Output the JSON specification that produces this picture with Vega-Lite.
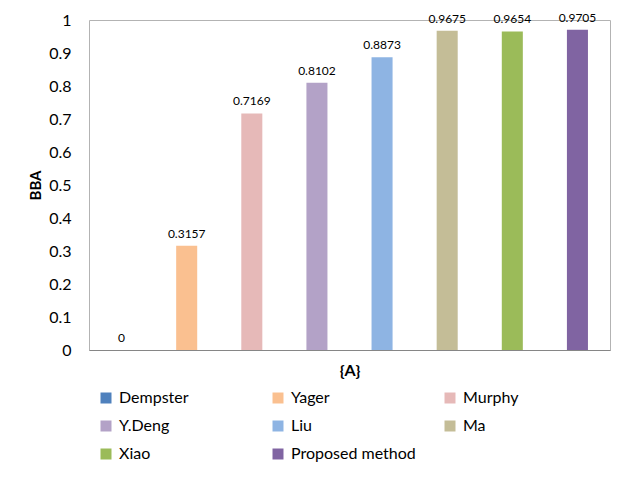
{
  "$schema": "https://vega.github.io/schema/vega-lite/v6.json",
  "width": 521,
  "height": 330,
  "autosize": "none",
  "padding": {"left": 89, "top": 20, "right": 8, "bottom": 134},
  "background": "white",
  "config": {
    "font": "Lato",
    "view": {"stroke": "#b3b3b3", "strokeWidth": 1}
  },
  "data": {
    "values": [
      {"method": "Dempster", "bba": 0},
      {"method": "Yager", "bba": 0.3157},
      {"method": "Murphy", "bba": 0.7169},
      {"method": "Y.Deng", "bba": 0.8102},
      {"method": "Liu", "bba": 0.8873},
      {"method": "Ma", "bba": 0.9675},
      {"method": "Xiao", "bba": 0.9654},
      {"method": "Proposed method", "bba": 0.9705}
    ]
  },
  "encoding": {
    "x": {
      "field": "method",
      "type": "nominal",
      "sort": null,
      "scale": {"paddingInner": 0.677, "paddingOuter": 0.3385},
      "axis": {
        "title": "{A}",
        "labels": false,
        "ticks": false,
        "domainColor": "#868686",
        "titleFont": "Lato",
        "titleFontSize": 16,
        "titleFontWeight": "bold",
        "titleColor": "#000",
        "titlePadding": 12
      }
    },
    "y": {
      "field": "bba",
      "type": "quantitative",
      "scale": {"domain": [0, 1], "nice": false},
      "axis": {
        "title": "BBA",
        "values": [0, 0.1, 0.2, 0.3, 0.4, 0.5, 0.6, 0.7, 0.8, 0.9, 1],
        "format": "~g",
        "grid": false,
        "ticks": false,
        "domain": false,
        "labelFontSize": 16,
        "labelColor": "#000",
        "labelPadding": 18,
        "titleFontSize": 15,
        "titleFontWeight": "bold",
        "titleColor": "#000",
        "titlePadding": 5
      }
    }
  },
  "layer": [
    {
      "mark": {"type": "bar"},
      "encoding": {
        "color": {
          "field": "method",
          "type": "nominal",
          "sort": null,
          "scale": {
            "domain": ["Dempster", "Yager", "Murphy", "Y.Deng", "Liu", "Ma", "Xiao", "Proposed method"],
            "range": ["#4f81bd", "#fac090", "#e6b9b8", "#b3a2c7", "#8eb4e3", "#c4bd97", "#9bbb59", "#8064a2"]
          },
          "legend": {
            "title": null,
            "orient": "none",
            "legendX": 9,
            "legendY": 370,
            "direction": "horizontal",
            "columns": 3,
            "gridAlign": "all",
            "columnPadding": 26,
            "rowPadding": 12,
            "symbolType": "square",
            "symbolSize": 121,
            "symbolStrokeWidth": 0,
            "labelOffset": 5,
            "labelFontSize": 16,
            "labelColor": "#000",
            "labelFont": "Lato"
          }
        }
      }
    },
    {
      "mark": {"type": "text", "fontSize": 12, "color": "#000", "baseline": "alphabetic", "dy": -8},
      "encoding": {
        "text": {"field": "bba", "type": "quantitative", "format": "~g"}
      }
    }
  ]
}
